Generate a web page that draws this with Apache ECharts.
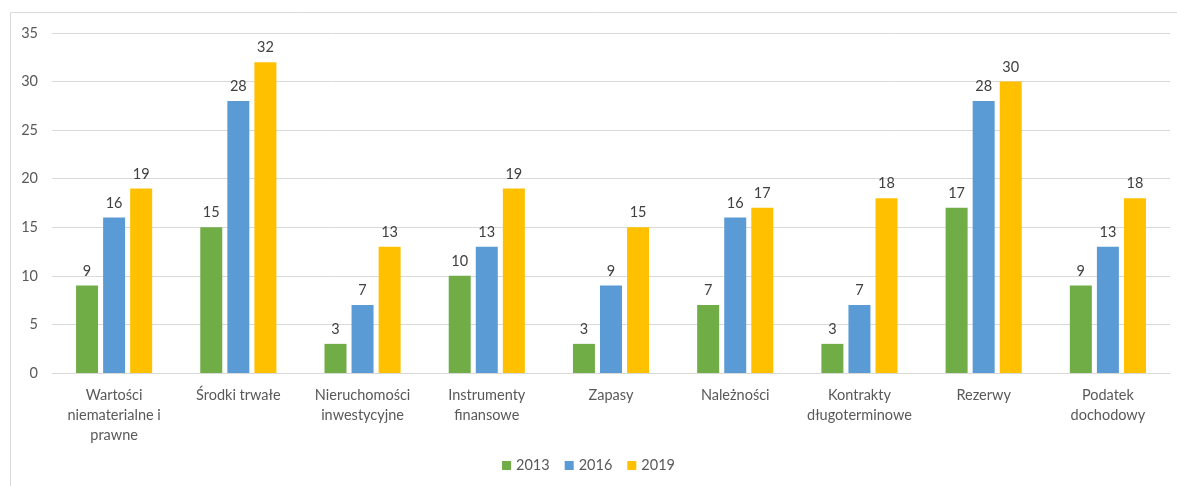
<!DOCTYPE html>
<html>
<head>
<meta charset="utf-8">
<script src="https://cdn.jsdelivr.net/npm/echarts@6/dist/echarts.min.js"></script>
<style>
  html, body { margin: 0; padding: 0; background: #ffffff; }
  #chart { width: 1177px; height: 486px; }
</style>
</head>
<body>
<div id="chart"></div>
<script>
// Categories (wrapped the way the axis shows them)
const categories = [
  'Wartości\nniematerialne i\nprawne',
  'Środki trwałe',
  'Nieruchomości\ninwestycyjne',
  'Instrumenty\nfinansowe',
  'Zapasy',
  'Należności',
  'Kontrakty\ndługoterminowe',
  'Rezerwy',
  'Podatek\ndochodowy'
];
const years = ['2013', '2016', '2019'];
const values2013 = [9, 15, 3, 10, 3, 7, 3, 17, 9];
const values2016 = [16, 28, 7, 13, 9, 16, 7, 28, 13];
const values2019 = [19, 32, 13, 19, 15, 17, 18, 30, 18];
const colors = ['#70AD47', '#5B9BD5', '#FFC000'];

const font = 'Lato, "Open Sans", sans-serif';
const textColor = '#595959';

function barSeries(name, data, color) {
  return {
    name: name,
    type: 'bar',
    data: data,
    barWidth: 22,
    barGap: '23%',
    itemStyle: { color: color },
    label: {
      show: true,
      position: 'top',
      distance: 7,
      color: '#404040',
      fontFamily: font,
      fontSize: 14.5
    }
  };
}

const chart = echarts.init(document.getElementById('chart'), null, { renderer: 'canvas' });
chart.setOption({
  animation: false,
  backgroundColor: '#ffffff',
  graphic: [{
    type: 'rect',
    shape: { x: 10.5, y: 12.5, width: 1200, height: 500 },
    style: { fill: 'none', stroke: '#d9d9d9', lineWidth: 1 },
    silent: true,
    z: -1
  }],
  grid: { left: 52, right: 7, top: 33, bottom: 113 },
  legend: {
    data: years,
    bottom: 8,
    left: 'center',
    itemWidth: 9,
    itemHeight: 9,
    itemGap: 15,
    icon: 'rect',
    textStyle: { color: textColor, fontFamily: font, fontSize: 14.5 }
  },
  xAxis: {
    type: 'category',
    data: categories,
    axisLine: { lineStyle: { color: '#d9d9d9' } },
    axisTick: { show: false },
    axisLabel: {
      color: textColor,
      fontFamily: font,
      fontSize: 14.5,
      lineHeight: 20,
      margin: 12,
      interval: 0
    }
  },
  yAxis: {
    type: 'value',
    min: 0,
    max: 35,
    interval: 5,
    axisLine: { show: false },
    axisTick: { show: false },
    splitLine: { lineStyle: { color: '#d9d9d9', width: 1 } },
    axisLabel: {
      color: textColor,
      fontFamily: font,
      fontSize: 14.5,
      margin: 14
    }
  },
  series: [
    barSeries(years[0], values2013, colors[0]),
    barSeries(years[1], values2016, colors[1]),
    barSeries(years[2], values2019, colors[2])
  ]
});
</script>
</body>
</html>
